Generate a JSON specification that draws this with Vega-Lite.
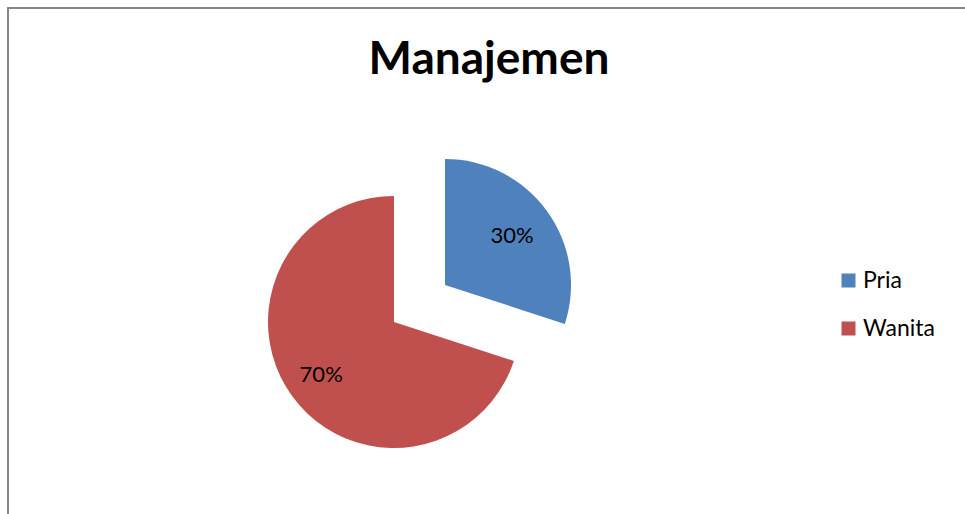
{
  "$schema": "https://vega.github.io/schema/vega-lite/v6.json",
  "autosize": "none",
  "padding": {"left": 8, "top": 8, "right": 0, "bottom": 0},
  "width": 962,
  "height": 628,
  "background": "white",
  "view": {"stroke": "#878787", "strokeWidth": 2},
  "config": {
    "view": {"stroke": "#878787", "strokeWidth": 2},
    "font": "Lato"
  },
  "title": {
    "text": "Manajemen",
    "font": "Lato",
    "fontSize": 46,
    "fontWeight": "bold",
    "color": "#000000",
    "anchor": "middle",
    "frame": "group",
    "baseline": "alphabetic",
    "offset": -112
  },
  "data": {
    "values": [
      {"kategori": "Pria", "nilai": 30, "urut": 1, "label": "30%"},
      {"kategori": "Wanita", "nilai": 70, "urut": 2, "label": "70%"}
    ]
  },
  "encoding": {
    "theta": {"field": "nilai", "type": "quantitative", "stack": true},
    "order": {"field": "urut", "type": "quantitative"}
  },
  "layer": [
    {
      "mark": {"type": "arc", "radius": 126, "xOffset": -95, "yOffset": 0},
      "encoding": {
        "color": {
          "field": "kategori",
          "type": "nominal",
          "scale": {"domain": ["Pria", "Wanita"], "range": ["#4F81BD", "#C0504D"]},
          "legend": {
            "title": null,
            "orient": "none",
            "legendX": 829,
            "legendY": 261,
            "symbolType": "square",
            "symbolSize": 196,
            "symbolStrokeWidth": 0,
            "labelFontSize": 23,
            "labelFont": "Lato",
            "labelColor": "#000000",
            "labelOffset": 3,
            "rowPadding": 24
          }
        },
        "opacity": {"condition": {"test": "datum.kategori === 'Pria'", "value": 0}, "value": 1}
      }
    },
    {
      "mark": {"type": "arc", "radius": 126, "xOffset": -44, "yOffset": -37},
      "encoding": {
        "color": {"field": "kategori", "type": "nominal"},
        "opacity": {"condition": {"test": "datum.kategori === 'Pria'", "value": 1}, "value": 0}
      }
    },
    {
      "mark": {"type": "text", "radius": 90, "xOffset": -95, "yOffset": 0, "fontSize": 22, "font": "Lato", "color": "#000000"},
      "encoding": {
        "text": {"field": "label"},
        "opacity": {"condition": {"test": "datum.kategori === 'Pria'", "value": 0}, "value": 1}
      }
    },
    {
      "mark": {"type": "text", "radius": 83, "xOffset": -44, "yOffset": -37, "fontSize": 22, "font": "Lato", "color": "#000000"},
      "encoding": {
        "text": {"field": "label"},
        "opacity": {"condition": {"test": "datum.kategori === 'Pria'", "value": 1}, "value": 0}
      }
    }
  ]
}
